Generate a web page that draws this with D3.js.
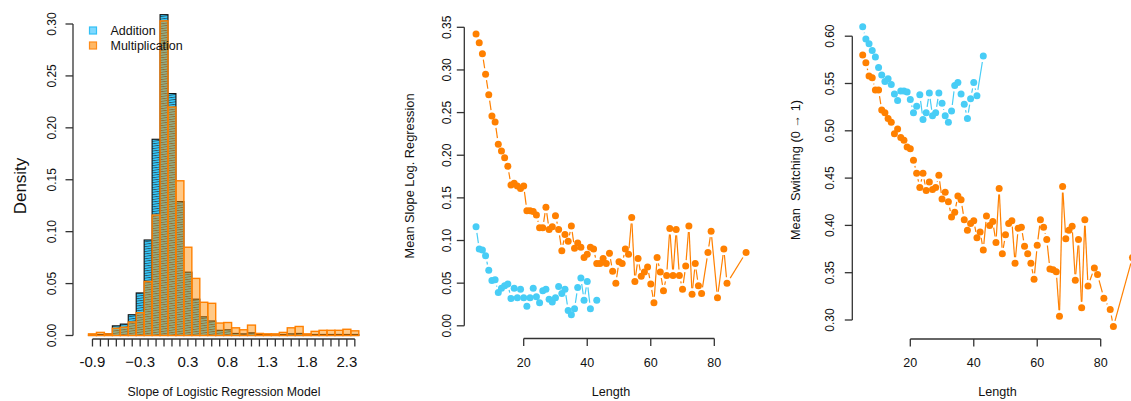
<!DOCTYPE html>
<html>
<head>
<meta charset="utf-8">
<script src="https://cdn.jsdelivr.net/npm/d3@7/dist/d3.min.js"></script>
<style>
  html, body { margin: 0; padding: 0; background: #fff; }
  svg { display: block; font-family: "Liberation Sans", Arial, Helvetica, sans-serif; }
</style>
</head>
<body>
<svg id="chart" width="1131" height="401"></svg>
<script>
// ---------------- DATA ----------------
// Panel 1: histogram (density) of slopes, bin centers
const binCenters = [-0.9,-0.8,-0.7,-0.6,-0.5,-0.4,-0.3,-0.2,-0.1,0.0,0.1,0.2,0.3,0.4,0.5,0.6,0.7,0.8,0.9,1.0,1.1,1.2,1.3,1.4,1.5,1.6,1.7,1.8,1.9,2.0,2.1,2.2,2.3,2.4];
const additionDensity = [0.0005,0.001,0.0016,0.0093,0.011,0.020,0.041,0.092,0.189,0.309,0.233,0.129,0.061,0.035,0.018,0.014,0.005,0.0055,0.002,0.0016,0.0026,0.001,0.001,0.0005,0.001,0.0016,0.002,0.0005,0.001,0.001,0.001,0.001,0.001,0.001];
const multiplicationDensity = [0.0016,0.003,0.0016,0.007,0.008,0.013,0.022,0.052,0.116,0.303,0.220,0.149,0.085,0.055,0.032,0.031,0.012,0.0125,0.0074,0.0055,0.010,0.002,0.0016,0.0016,0.003,0.0074,0.0087,0.0016,0.004,0.005,0.005,0.005,0.006,0.0045];
const histTickValues = [-0.9,-0.8,-0.7,-0.6,-0.5,-0.4,-0.3,-0.2,-0.1,0.0,0.1,0.2,0.3,0.4,0.5,0.6,0.7,0.8,0.9,1.0,1.1,1.2,1.3,1.4,1.5,1.6,1.7,1.8,1.9,2.0,2.1,2.2,2.3,2.4];
const histTickLabels = {"-0.9":"-0.9","-0.3":"\u22120.3","0.3":"0.3","0.8":"0.8","1.3":"1.3","1.8":"1.8","2.3":"2.3"};
const histYTicks = [0.00,0.05,0.10,0.15,0.20,0.25,0.30];

// Panels 2 & 3: by sequence length
const additionLengths = [5,6,7,8,9,10,11,12,13,14,15,16,17,18,19,20,21,22,23,24,25,26,27,28,29,30,31,32,33,34,35,36,37,38,39,40,41,43];
const multiplicationLengths = [5,6,7,8,9,10,11,12,13,14,15,16,17,18,19,20,21,22,23,24,25,26,27,28,29,30,31,32,33,34,35,36,37,38,39,40,41,42,43,44,45,46,47,48,49,50,51,52,53,54,55,56,57,58,59,60,61,62,63,64,65,66,67,68,69,70,71,72,73,74,75,76,78,79,81,83,84,90];

const additionSlope = [0.116,0.090,0.089,0.082,0.065,0.053,0.054,0.039,0.044,0.047,0.049,0.032,0.044,0.033,0.043,0.033,0.023,0.033,0.044,0.034,0.027,0.041,0.043,0.031,0.028,0.033,0.046,0.038,0.043,0.018,0.013,0.020,0.045,0.056,0.030,0.052,0.020,0.030];
const multiplicationSlope = [0.342,0.332,0.319,0.295,0.271,0.246,0.239,0.213,0.205,0.197,0.187,0.165,0.167,0.164,0.161,0.164,0.135,0.135,0.134,0.130,0.115,0.115,0.139,0.113,0.116,0.129,0.113,0.088,0.107,0.099,0.117,0.091,0.097,0.092,0.080,0.084,0.092,0.090,0.073,0.073,0.079,0.073,0.085,0.064,0.050,0.075,0.073,0.090,0.084,0.127,0.052,0.079,0.058,0.063,0.069,0.049,0.027,0.080,0.063,0.041,0.059,0.114,0.059,0.113,0.059,0.043,0.070,0.117,0.037,0.073,0.047,0.038,0.086,0.111,0.033,0.090,0.050,0.086];

const additionSwitch = [0.610,0.597,0.592,0.585,0.578,0.567,0.559,0.552,0.555,0.549,0.539,0.532,0.542,0.542,0.541,0.533,0.519,0.526,0.538,0.512,0.519,0.540,0.516,0.519,0.540,0.529,0.516,0.509,0.521,0.548,0.551,0.539,0.528,0.513,0.534,0.551,0.537,0.579];
const multiplicationSwitch = [0.580,0.572,0.558,0.556,0.543,0.543,0.522,0.519,0.513,0.509,0.497,0.502,0.493,0.490,0.483,0.481,0.469,0.455,0.440,0.455,0.437,0.446,0.438,0.440,0.453,0.428,0.435,0.425,0.409,0.414,0.431,0.427,0.406,0.395,0.402,0.405,0.387,0.393,0.374,0.410,0.400,0.404,0.382,0.439,0.370,0.390,0.402,0.405,0.360,0.397,0.398,0.378,0.370,0.360,0.343,0.379,0.406,0.398,0.385,0.354,0.353,0.351,0.304,0.441,0.386,0.395,0.399,0.342,0.385,0.313,0.406,0.336,0.355,0.348,0.323,0.311,0.293,0.366];

const lengthTicks = [20,40,60,80];
const slopeTicks = [0.00,0.05,0.10,0.15,0.20,0.25,0.30,0.35];
const switchTicks = [0.30,0.35,0.40,0.45,0.50,0.55,0.60];

const legendLabels = ["Addition","Multiplication"];

// ---------------- STYLE ----------------
const BLUE = "#48cdf6";
const ORANGE = "#ff8000";
const AXIS = "#333";
const TEXT = "#111";

const svg = d3.select("#chart");
svg.append("rect").attr("width",1131).attr("height",401).attr("fill","#fff");

// hatch pattern for addition bars
const defs = svg.append("defs");
const pat = defs.append("pattern").attr("id","hatch").attr("patternUnits","userSpaceOnUse")
  .attr("width",4).attr("height",2.4).attr("patternTransform","rotate(-8)");
pat.append("rect").attr("width",4).attr("height",2.4).attr("fill","#33ccff");
pat.append("rect").attr("y",0).attr("width",4).attr("height",0.9).attr("fill","#2b3a44").attr("fill-opacity",0.8);

// ---------- axis helpers ----------
function leftAxis(g, y, ticks, x0, labelX, fmt, fs) {
  g.append("line").attr("x1",x0).attr("x2",x0)
    .attr("y1",y(ticks[0])).attr("y2",y(ticks[ticks.length-1]))
    .attr("stroke",AXIS).attr("stroke-width",1.3);
  ticks.forEach(t => {
    g.append("line").attr("x1",x0-7.5).attr("x2",x0).attr("y1",y(t)).attr("y2",y(t))
      .attr("stroke",AXIS).attr("stroke-width",1.3);
    g.append("text").attr("transform",`translate(${labelX},${y(t)}) rotate(-90)`)
      .attr("text-anchor","middle").attr("font-size",fs).attr("fill",TEXT).text(fmt(t));
  });
}
function bottomAxis(g, x, ticks, y0, labelY, labelFn, fs) {
  g.append("line").attr("y1",y0).attr("y2",y0)
    .attr("x1",x(ticks[0])).attr("x2",x(ticks[ticks.length-1]))
    .attr("stroke",AXIS).attr("stroke-width",1.3);
  ticks.forEach(t => {
    g.append("line").attr("y1",y0).attr("y2",y0+7.5).attr("x1",x(t)).attr("x2",x(t))
      .attr("stroke",AXIS).attr("stroke-width",1.3);
    const lab = labelFn(t);
    if (lab !== null) {
      g.append("text").attr("x",x(t)).attr("y",labelY).attr("text-anchor","middle")
        .attr("font-size",fs).attr("fill",TEXT).text(lab);
    }
  });
}
function yLabel(g, text, x, yc, fs) {
  g.append("text").attr("transform",`translate(${x},${yc}) rotate(-90)`)
    .attr("text-anchor","middle").attr("font-size",fs).attr("fill",TEXT)
    .style("white-space","pre").text(text);
}
function xLabel(g, text, xc, y, fs) {
  g.append("text").attr("x",xc).attr("y",y).attr("text-anchor","middle")
    .attr("font-size",fs).attr("fill",TEXT).text(text);
}

// R type="b": segments shortened so they stop short of the points
function drawSeriesB(g, xs, ys, x, y, color, gap, r) {
  const pts = xs.map((v,i) => [x(v), y(ys[i])]);
  for (let i = 0; i < pts.length-1; i++) {
    const [x1,y1] = pts[i], [x2,y2] = pts[i+1];
    const dx = x2-x1, dy = y2-y1, L = Math.hypot(dx,dy);
    if (L > 2*gap + 0.5) {
      const ux = dx/L, uy = dy/L;
      g.append("line").attr("x1",x1+ux*gap).attr("y1",y1+uy*gap)
        .attr("x2",x2-ux*gap).attr("y2",y2-uy*gap)
        .attr("stroke",color).attr("stroke-width",1.2);
    }
  }
  g.selectAll(null).data(pts).enter().append("circle")
    .attr("cx",d=>d[0]).attr("cy",d=>d[1]).attr("r",r).attr("fill",color);
}

// ---------------- PANEL 1 ----------------
const p1 = svg.append("g");
const x1 = d3.scaleLinear().domain([-0.95, 2.45]).range([88.5, 358.8]);
const y1 = d3.scaleLinear().domain([0, 0.30]).range([335.5, 24]);
const bw = 0.1;

p1.selectAll("rect.add").data(binCenters).enter().append("rect")
  .attr("x", d => x1(d - bw/2)).attr("width", d => x1(d + bw/2) - x1(d - bw/2))
  .attr("y", (d,i) => y1(additionDensity[i])).attr("height", (d,i) => y1(0) - y1(additionDensity[i]))
  .attr("fill","url(#hatch)").attr("stroke","#111").attr("stroke-width",1.1);

p1.selectAll("rect.mul").data(binCenters).enter().append("rect")
  .attr("x", d => x1(d - bw/2)).attr("width", d => x1(d + bw/2) - x1(d - bw/2))
  .attr("y", (d,i) => y1(multiplicationDensity[i])).attr("height", (d,i) => y1(0) - y1(multiplicationDensity[i]))
  .attr("fill","rgba(255,140,0,0.47)").attr("stroke","#ff8000").attr("stroke-width",1.4);

leftAxis(p1, y1, histYTicks, 73, 55.5, d => d.toFixed(2), 12);
bottomAxis(p1, x1, histTickValues, 339, 367, t => {
  let k = t.toFixed(1);
  if (k === "-0.0") k = "0.0";
  return histTickLabels[k] !== undefined ? histTickLabels[k] : null;
}, 15);
yLabel(p1, "Density", 26, 186, 17);
xLabel(p1, "Slope of Logistic Regression Model", 224, 396, 12.3);

// legend
const leg = p1.append("g");
const legFill = ["#7fd9ff","#ffb866"];
const legStroke = ["#33c0f5","#ff8c1a"];
legendLabels.forEach((lab,i) => {
  leg.append("rect").attr("x",89.5).attr("y",27 + i*15).attr("width",7).attr("height",7)
    .attr("fill",legFill[i]).attr("stroke",legStroke[i]).attr("stroke-width",1.2);
  leg.append("text").attr("x",110.5).attr("y",35 + i*15).attr("font-size",12.5)
    .attr("fill",TEXT).text(lab);
});

// ---------------- PANEL 2 ----------------
const p2 = svg.append("g");
const x2 = d3.scaleLinear().domain([20, 80]).range([523.7, 714.3]);
const y2 = d3.scaleLinear().domain([0, 0.35]).range([325.8, 27.3]);
drawSeriesB(p2, multiplicationLengths, multiplicationSlope, x2, y2, ORANGE, 6, 3.5);
drawSeriesB(p2, additionLengths, additionSlope, x2, y2, BLUE, 6, 3.5);
leftAxis(p2, y2, slopeTicks, 464.3, 450.5, d => d.toFixed(2), 12);
bottomAxis(p2, x2, lengthTicks, 338.5, 366.5, t => String(t), 12.5);
yLabel(p2, "Mean Slope Log. Regression", 413.5, 176, 12.8);
xLabel(p2, "Length", 611, 396, 12.6);

// ---------------- PANEL 3 ----------------
const p3 = svg.append("g");
const x3 = d3.scaleLinear().domain([20, 80]).range([910.3, 1100.7]);
const y3 = d3.scaleLinear().domain([0.30, 0.60]).range([320, 36.2]);
drawSeriesB(p3, multiplicationLengths, multiplicationSwitch, x3, y3, ORANGE, 6, 3.5);
drawSeriesB(p3, additionLengths, additionSwitch, x3, y3, BLUE, 6, 3.5);
leftAxis(p3, y3, switchTicks, 852.3, 833.5, d => d.toFixed(2), 12);
bottomAxis(p3, x3, lengthTicks, 339, 366.5, t => String(t), 12.5);
yLabel(p3, "Mean  Switching (0 \u2192 1)", 800, 170, 12.8);
xLabel(p3, "Length", 997.5, 396, 12.6);
</script>
</body>
</html>
